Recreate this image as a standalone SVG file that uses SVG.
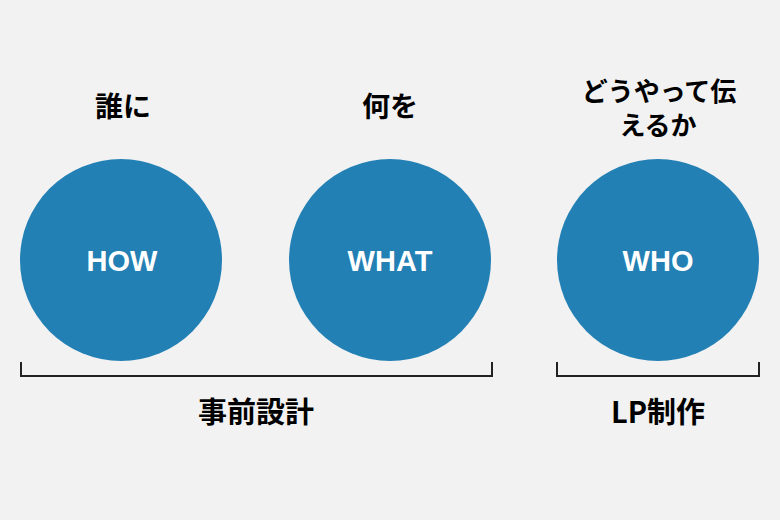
<svg xmlns="http://www.w3.org/2000/svg" width="780" height="520" viewBox="0 0 780 520">
<style>
.c{fill:#2380b4}
.cl{font-family:"Liberation Sans","Noto Sans CJK JP",sans-serif;font-weight:bold;font-size:29px;fill:#ffffff;text-anchor:middle}
.t{font-family:"Noto Sans CJK JP","Liberation Sans",sans-serif;font-weight:bold;font-size:28px;fill:#000000;text-anchor:middle}
.s{font-size:26px}
.b{fill:none;stroke:#222222;stroke-width:2}
</style>
<rect width="780" height="520" fill="#f2f2f2"/>
<g id="how">
<circle class="c" cx="121" cy="260" r="101"/>
<text class="cl" x="122" y="271">HOW</text>
<text class="t" x="123" y="117">誰に</text>
</g>
<g id="what">
<circle class="c" cx="390" cy="260" r="101"/>
<text class="cl" x="390" y="271">WHAT</text>
<text class="t" x="390" y="117">何を</text>
</g>
<g id="who">
<circle class="c" cx="658" cy="260" r="101"/>
<text class="cl" x="658" y="271">WHO</text>
<text class="t s" x="659" y="101">どうやって伝</text>
<text class="t s" x="658" y="135">えるか</text>
</g>
<g id="connectors">
<path class="b" d="M21 362 V376 H492 V362"/>
<path class="b" d="M557 362 V376 H759 V362"/>
</g>
<g id="labels">
<text class="t" x="256" y="423" style="font-size:29px">事前設計</text>
<text class="t" x="658" y="423" style="font-size:29px">LP制作</text>
</g>
</svg>
